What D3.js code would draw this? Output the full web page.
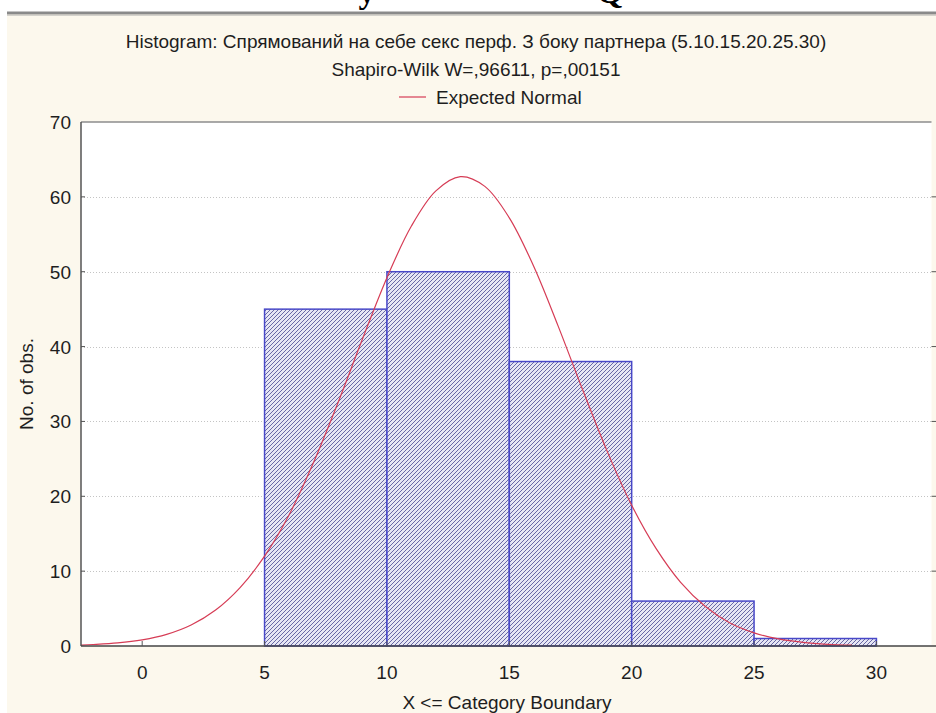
<!DOCTYPE html>
<html>
<head>
<meta charset="utf-8">
<script src="https://cdn.jsdelivr.net/npm/d3@7"></script>
<style>
  body { margin: 0; background: #fff; }
</style>
</head>
<body>
<script>
const m = {
    width: 936,
    height: 713,
    left: 81,
    right: 931.5,
    top: 122,
    bottom: 646
}

// histogram bins (lower edge) and counts
const binStart = [5, 10, 15, 20, 25]
const binWidth = 5
const counts = [45, 50, 38, 6, 1]

// expected normal
const curveX = [-2.5, -2, -1, 0, 1, 2, 3, 4, 5, 6, 7, 8, 9, 10, 11, 12, 13, 14, 15, 16, 17, 18, 19, 20, 21, 22, 23, 24, 25, 26, 27, 28, 29]
const curveY = [0.13, 0.2, 0.41, 0.82, 1.55, 2.8, 4.8, 7.8, 12.0, 17.5, 24.5, 32.5, 41.0, 49.2, 56.1, 60.8, 62.7, 61.4, 57.2, 50.7, 42.7, 34.2, 26.0, 18.8, 13.0, 8.5, 5.3, 3.1, 1.75, 0.94, 0.48, 0.23, 0.11]

const xTicks = [0, 5, 10, 15, 20, 25, 30]
const yTicks = [0, 10, 20, 30, 40, 50, 60, 70]
const gridTicks = [10, 20, 30, 40, 50, 60]

const titleLines = [
    'Histogram: Спрямований на себе секс перф. З боку партнера (5.10.15.20.25.30)',
    'Shapiro-Wilk W=,96611, p=,00151'
]

const font = '19px "Liberation Sans", Arial, sans-serif'

const svg = d3.select('body').append('svg')
    .attr('width', m.width)
    .attr('height', m.height)
    .style('display', 'block')

const defs = svg.append('defs')
const hatch = defs.append('pattern')
    .attr('id', 'hatch')
    .attr('patternUnits', 'userSpaceOnUse')
    .attr('width', 4)
    .attr('height', 4)
hatch.append('rect')
    .attr('width', 4)
    .attr('height', 4)
    .attr('fill', '#e6e6f4')
hatch.append('path')
    .attr('d', 'M-1,1 l2,-2 M0,4 l4,-4 M3,5 l2,-2')
    .attr('stroke', '#5a5a9c')
    .attr('stroke-width', 0.9)

// page strip from the document above
svg.append('rect')
    .attr('x', 7).attr('y', 14)
    .attr('width', m.width - 7).attr('height', m.height - 14)
    .attr('fill', '#fcf8ed')
svg.append('line')
    .attr('x1', 7).attr('x2', m.width)
    .attr('y1', 13).attr('y2', 13)
    .attr('stroke', '#8a8a8a')
    .attr('stroke-width', 3)
svg.append('line')
    .attr('x1', 7).attr('x2', m.width)
    .attr('y1', 15.5).attr('y2', 15.5)
    .attr('stroke', '#d4d2cc')
    .attr('stroke-width', 1)
svg.selectAll('.frag')
    .data([{ t: 'у', x: 367 }, { t: 'Q', x: 610 }])
    .enter()
    .append('text')
    .attr('x', d => d.x)
    .attr('y', 3)
    .attr('text-anchor', 'middle')
    .style('font', 'bold 34px "Liberation Serif", serif')
    .text(d => d.t)

const x = d3.scaleLinear()
    .domain([-2.5, 32.25])
    .range([m.left, m.right])

const y = d3.scaleLinear()
    .domain([0, 70])
    .range([m.bottom, m.top])

// plot area
svg.append('rect')
    .attr('x', m.left).attr('y', m.top)
    .attr('width', m.right - m.left).attr('height', m.bottom - m.top)
    .attr('fill', '#fff')

svg.append('g')
    .selectAll('line')
    .data(gridTicks)
    .enter()
    .append('line')
    .attr('x1', m.left).attr('x2', m.right)
    .attr('y1', d => Math.round(y(d)) + 0.5).attr('y2', d => Math.round(y(d)) + 0.5)
    .attr('stroke', '#c4c4c4')
    .attr('stroke-dasharray', '1,2')

// bars
svg.append('g')
    .selectAll('rect')
    .data(counts)
    .enter()
    .append('rect')
    .attr('x', (d, i) => x(binStart[i]))
    .attr('y', d => y(d))
    .attr('width', (d, i) => x(binStart[i] + binWidth) - x(binStart[i]))
    .attr('height', d => y(0) - y(d))
    .attr('fill', 'url(#hatch)')
    .attr('stroke', '#4848c8')
    .attr('stroke-width', 1.5)

// expected normal curve
const line = d3.line()
    .x(d => x(d[0]))
    .y(d => y(d[1]))
    .curve(d3.curveCatmullRom)

svg.append('path')
    .datum(d3.zip(curveX, curveY))
    .attr('d', line)
    .attr('fill', 'none')
    .attr('stroke', '#d63c55')
    .attr('stroke-width', 1.2)

// frame and axes
svg.append('line')
    .attr('x1', m.left).attr('x2', m.right)
    .attr('y1', m.top).attr('y2', m.top)
    .attr('stroke', '#8c8c8c')
    .attr('stroke-width', 1.5)
svg.append('line')
    .attr('x1', m.left).attr('x2', m.left)
    .attr('y1', m.top).attr('y2', m.bottom)
    .attr('stroke', '#555')
    .attr('stroke-width', 1.5)
svg.append('line')
    .attr('x1', m.left).attr('x2', m.width)
    .attr('y1', m.bottom).attr('y2', m.bottom)
    .attr('stroke', '#444')
    .attr('stroke-width', 1.6)

const yAxis = svg.append('g')
yAxis.selectAll('.ytick')
    .data(yTicks.slice(1, -1))
    .enter()
    .append('line')
    .attr('x1', m.left).attr('x2', m.left + 4)
    .attr('y1', d => y(d)).attr('y2', d => y(d))
    .attr('stroke', '#555')
yAxis.selectAll('.rtick')
    .data(yTicks.slice(1, -1))
    .enter()
    .append('line')
    .attr('x1', m.right).attr('x2', m.width)
    .attr('y1', d => y(d)).attr('y2', d => y(d))
    .attr('stroke', '#555')
yAxis.selectAll('text')
    .data(yTicks)
    .enter()
    .append('text')
    .attr('x', 71)
    .attr('y', d => y(d) + 7)
    .attr('text-anchor', 'end')
    .style('font', font)
    .attr('fill', '#1e1e1e')
    .text(d => d)

const xAxis = svg.append('g')
xAxis.selectAll('line')
    .data(xTicks)
    .enter()
    .append('line')
    .attr('x1', d => x(d)).attr('x2', d => x(d))
    .attr('y1', m.bottom).attr('y2', m.bottom - 5)
    .attr('stroke', '#555')
xAxis.selectAll('text')
    .data(xTicks)
    .enter()
    .append('text')
    .attr('x', d => x(d))
    .attr('y', 679)
    .attr('text-anchor', 'middle')
    .style('font', font)
    .attr('fill', '#1e1e1e')
    .text(d => d)

svg.append('text')
    .attr('x', 507)
    .attr('y', 709)
    .attr('text-anchor', 'middle')
    .style('font', font)
    .attr('fill', '#1e1e1e')
    .text('X <= Category Boundary')

svg.append('text')
    .attr('transform', 'translate(33,384) rotate(-90)')
    .attr('text-anchor', 'middle')
    .style('font', font)
    .attr('fill', '#1e1e1e')
    .text('No. of obs.')

// titles and legend
svg.selectAll('.title')
    .data(titleLines)
    .enter()
    .append('text')
    .attr('x', 476)
    .attr('y', (d, i) => 48 + i * 28)
    .attr('text-anchor', 'middle')
    .style('font', font)
    .attr('fill', '#1e1e1e')
    .text(d => d)

svg.append('line')
    .attr('x1', 399).attr('x2', 426)
    .attr('y1', 97).attr('y2', 97)
    .attr('stroke', '#d63c55')
    .attr('stroke-width', 1.2)
svg.append('text')
    .attr('x', 436)
    .attr('y', 104)
    .style('font', font)
    .attr('fill', '#1e1e1e')
    .text('Expected Normal')
</script>
</body>
</html>
